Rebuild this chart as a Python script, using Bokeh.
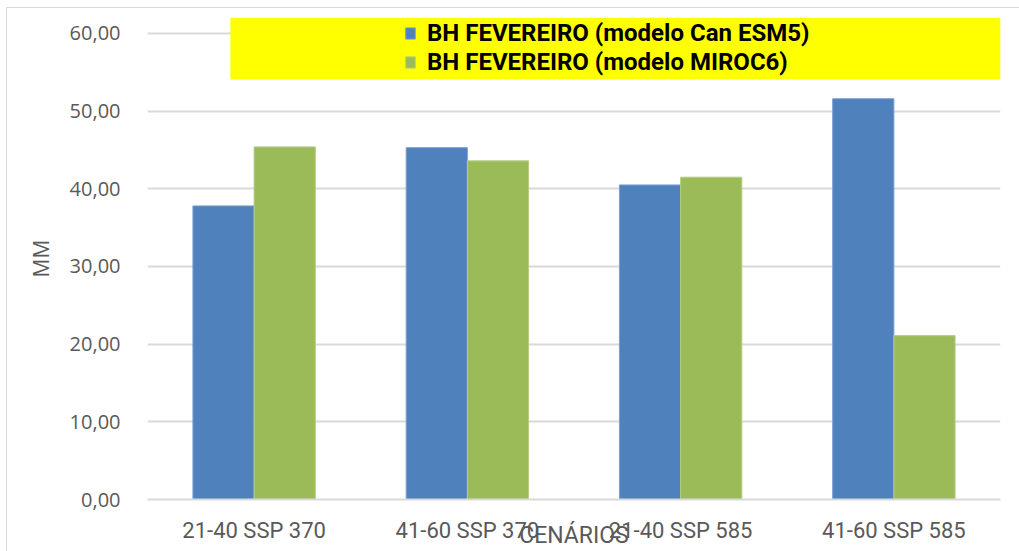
from bokeh.plotting import figure
from bokeh.models import (FixedTicker, BoxAnnotation, ColumnDataSource, Range1d,
                          Legend, LegendItem, InlineStyleSheet)
from bokeh.transform import dodge
from bokeh.embed import file_html
from bokeh.resources import INLINE

categories = ["21-40 SSP 370", "41-60 SSP 370", "21-40 SSP 585", "41-60 SSP 585"]
can_esm5 = [37.8, 45.3, 40.5, 51.6]
miroc6 = [45.4, 43.6, 41.5, 21.1]
series_names = ["BH FEVEREIRO (modelo Can ESM5)", "BH FEVEREIRO (modelo MIROC6)"]
y_ticks = [0, 10, 20, 30, 40, 50, 60]
y_tick_labels = ["0,00", "10,00", "20,00", "30,00", "40,00", "50,00", "60,00"]
x_title = "CENÁRIOS"
y_title = "MM"

BLUE = "#4f81bd"
GREEN = "#9bbb59"
GRAY_TXT = "#595959"
GRID = "#d9d9d9"
NARROW = "Roboto"

pos = list(range(1, len(categories) + 1))
src = ColumnDataSource(dict(x=pos, can=can_esm5, miroc=miroc6))

p = figure(width=1019, height=551,
           x_range=Range1d(0.5, len(categories) + 0.5),
           y_range=Range1d(0, 62.06),
           output_backend="svg", toolbar_location=None,
           min_border_left=147, min_border_right=19,
           min_border_top=17, min_border_bottom=52)
p.outline_line_color = None
p.background_fill_color = "white"

# light chart-area border (left and top edges, as in the original)
p.stylesheets = [InlineStyleSheet(css=(
    ":host::after { content: ''; position: absolute; left: 6px; top: 7px; "
    "right: 0; bottom: 0; border-left: 1px solid #d9d9d9; "
    "border-top: 1px solid #d9d9d9; pointer-events: none; }"))]

bw = 0.287
r1 = p.vbar(x=dodge("x", -bw / 2, range=p.x_range), top="can", width=bw,
            source=src, fill_color=BLUE, line_color="#7a9fd0", line_width=1)
r2 = p.vbar(x=dodge("x", bw / 2, range=p.x_range), top="miroc", width=bw,
            source=src, fill_color=GREEN, line_color="#b5cd85", line_width=1)

# axes
p.xaxis.ticker = FixedTicker(ticks=pos)
p.xaxis.major_label_overrides = {i + 1: c for i, c in enumerate(categories)}
p.xaxis.major_tick_line_color = None
p.xaxis.minor_tick_line_color = None
p.xaxis.axis_line_color = GRID
p.xaxis.axis_line_width = 2
p.xaxis.major_label_text_font = NARROW
p.xaxis.major_label_text_font_size = "22px"
p.xaxis.major_label_text_color = GRAY_TXT
p.xaxis.major_label_standoff = 12
p.xaxis.axis_label = x_title
p.xaxis.axis_label_text_font = NARROW
p.xaxis.axis_label_text_font_style = "normal"
p.xaxis.axis_label_text_font_size = "23px"
p.xaxis.axis_label_text_color = GRAY_TXT
p.xaxis.axis_label_standoff = -24

p.yaxis.ticker = FixedTicker(ticks=y_ticks)
p.yaxis.major_label_overrides = {t: l for t, l in zip(y_ticks, y_tick_labels)}
p.yaxis.major_tick_line_color = None
p.yaxis.minor_tick_line_color = None
p.yaxis.axis_line_color = None
p.yaxis.major_label_text_font = "Open Sans"
p.yaxis.major_label_text_font_size = "20px"
p.yaxis.major_label_text_color = GRAY_TXT
p.yaxis.major_label_standoff = 21
p.yaxis.axis_label = y_title
p.yaxis.axis_label_text_font = "Open Sans"
p.yaxis.axis_label_text_font_style = "normal"
p.yaxis.axis_label_text_font_size = "21px"
p.yaxis.axis_label_text_color = GRAY_TXT
p.yaxis.axis_label_standoff = 12

p.xgrid.grid_line_color = None
p.ygrid.grid_line_color = GRID
p.ygrid.grid_line_width = 2

# yellow legend background
p.add_layout(BoxAnnotation(left=0.889, right=4.5, top=62.06, bottom=54.08,
                           fill_color="#ffff00", fill_alpha=1, line_color=None))

legend = Legend(items=[LegendItem(label=series_names[0], renderers=[r1]),
                       LegendItem(label=series_names[1], renderers=[r2])],
                location=(257, 423))
legend.background_fill_alpha = 0
legend.border_line_color = None
legend.padding = 0
legend.margin = 0
legend.spacing = 1
legend.glyph_width = 12
legend.glyph_height = 14
legend.label_height = 26
legend.label_standoff = 11
legend.label_text_font = NARROW
legend.label_text_font_style = "bold"
legend.label_text_font_size = "24px"
legend.label_text_color = "black"
p.add_layout(legend)

open("out.html", "w").write(file_html(p, INLINE))
